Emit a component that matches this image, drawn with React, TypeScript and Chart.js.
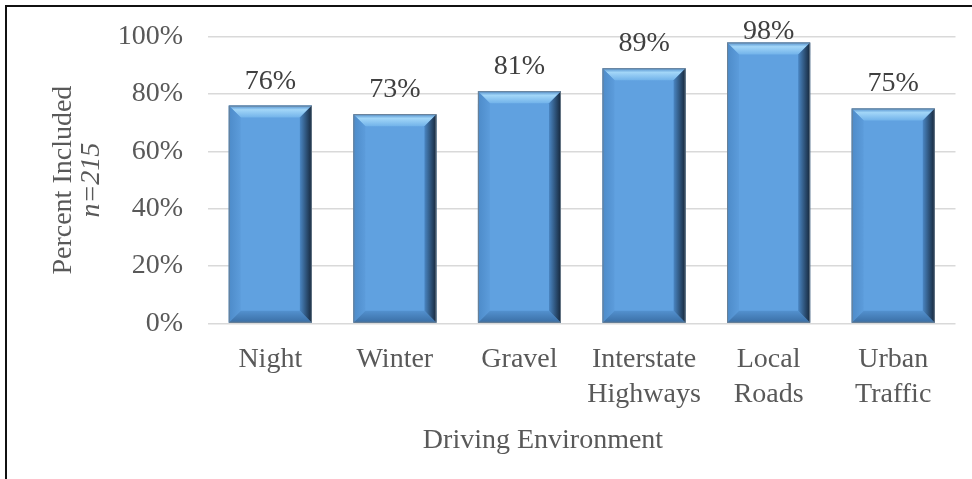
import React, { useEffect, useRef } from "react";
import { Chart, registerables } from "chart.js";

Chart.register(...registerables);

const categories: string[][] = [
  ["Night"],
  ["Winter"],
  ["Gravel"],
  ["Interstate", "Highways"],
  ["Local", "Roads"],
  ["Urban", "Traffic"],
];
const percentIncluded: number[] = [76, 73, 81, 89, 98, 75];
const yTickMin = 0;
const yTickMax = 100;
const yTickStep = 20;
const yTitleMain = "Percent Included";
const yTitleSub = "n=215";
const xTitle = "Driving Environment";

const FONT = "'Liberation Serif', 'Times New Roman', serif";
const TEXT = "#595959";

const bevelPlugin = {
  id: "bevelAndLabels",
  afterDatasetsDraw(chart: any) {
    const ctx: CanvasRenderingContext2D = chart.ctx;
    const meta = chart.getDatasetMeta(0);
    const area = chart.chartArea;
    meta.data.forEach((bar: any, i: number) => {
      const { x, y, base, width } = bar.getProps(["x", "y", "base", "width"], true);
      const l = x - width / 2;
      const r = x + width / 2;
      const t = Math.min(y, base);
      const bt = Math.max(y, base);
      const b = Math.min(12, (bt - t) / 2);
      ctx.save();
      // top bevel
      let g = ctx.createLinearGradient(0, t, 0, t + b);
      g.addColorStop(0, "#4f8dcc");
      g.addColorStop(0.35, "#a2d6f8");
      g.addColorStop(1, "#72b3ea");
      ctx.fillStyle = g;
      ctx.beginPath();
      ctx.moveTo(l, t); ctx.lineTo(r, t); ctx.lineTo(r - b, t + b); ctx.lineTo(l + b, t + b); ctx.closePath();
      ctx.fill();
      // left bevel
      g = ctx.createLinearGradient(l, 0, l + b, 0);
      g.addColorStop(0, "#4d8bc9");
      g.addColorStop(1, "#5c9cdb");
      ctx.fillStyle = g;
      ctx.beginPath();
      ctx.moveTo(l, t); ctx.lineTo(l + b, t + b); ctx.lineTo(l + b, bt - b); ctx.lineTo(l, bt); ctx.closePath();
      ctx.fill();
      // bottom bevel
      g = ctx.createLinearGradient(0, bt - b, 0, bt);
      g.addColorStop(0, "#5391cf");
      g.addColorStop(1, "#3a6ea4");
      ctx.fillStyle = g;
      ctx.beginPath();
      ctx.moveTo(l, bt); ctx.lineTo(l + b, bt - b); ctx.lineTo(r - b, bt - b); ctx.lineTo(r, bt); ctx.closePath();
      ctx.fill();
      // right bevel
      g = ctx.createLinearGradient(r - b, 0, r, 0);
      g.addColorStop(0, "#4a86c3");
      g.addColorStop(0.6, "#2a4c70");
      g.addColorStop(1, "#15263a");
      ctx.fillStyle = g;
      ctx.beginPath();
      ctx.moveTo(r, t); ctx.lineTo(r, bt); ctx.lineTo(r - b, bt - b); ctx.lineTo(r - b, t + b); ctx.closePath();
      ctx.fill();
      // outline
      ctx.strokeStyle = "rgba(110,125,140,0.9)";
      ctx.lineWidth = 1;
      ctx.strokeRect(l + 0.5, t + 0.5, width - 1, bt - t - 1);
      // data label
      ctx.fillStyle = "#404040";
      ctx.font = `28px ${FONT}`;
      ctx.textAlign = "center";
      ctx.textBaseline = "alphabetic";
      const baseline = Math.max(t - 17, area.top + 2);
      ctx.fillText(`${percentIncluded[i]}%`, x, baseline);
      ctx.restore();
    });
  },
  afterDraw(chart: any) {
    const ctx: CanvasRenderingContext2D = chart.ctx;
    const area = chart.chartArea;
    const cy = (area.top + area.bottom) / 2;
    ctx.save();
    ctx.fillStyle = TEXT;
    ctx.textAlign = "center";
    ctx.textBaseline = "middle";
    ctx.translate(64, cy);
    ctx.rotate(-Math.PI / 2);
    ctx.font = `28px ${FONT}`;
    ctx.fillText(yTitleMain, 0, 0);
    ctx.font = `italic 28px ${FONT}`;
    ctx.fillText(yTitleSub, 0, 28);
    ctx.restore();
    ctx.save();
    ctx.fillStyle = TEXT;
    ctx.textAlign = "center";
    ctx.textBaseline = "middle";
    ctx.font = `28px ${FONT}`;
    ctx.fillText(xTitle, 543, 441);
    ctx.restore();
  },
};

export default function App() {
  const ref = useRef<HTMLCanvasElement | null>(null);
  useEffect(() => {
    if (!ref.current) return;
    const chart = new Chart(ref.current, {
      type: "bar",
      data: {
        labels: categories,
        datasets: [
          {
            data: percentIncluded,
            backgroundColor: "#60a1e0",
            borderWidth: 0,
            categoryPercentage: 1,
            barPercentage: 0.667,
          },
        ],
      },
      options: {
        animation: false,
        responsive: false,
        maintainAspectRatio: false,
        devicePixelRatio: 1,
        layout: { padding: { top: 36.7, right: 16.5, left: 0, bottom: 0 } },
        plugins: { legend: { display: false }, tooltip: { enabled: false } },
        scales: {
          x: {
            grid: { display: false, drawTicks: false },
            border: { display: false },
            ticks: {
              color: TEXT,
              font: { family: FONT, size: 28, lineHeight: 1.25 },
              padding: 19,
              maxRotation: 0,
              autoSkip: false,
            },
            afterFit: (s: any) => {
              s.height = 155.5;
            },
          },
          y: {
            min: yTickMin,
            max: yTickMax,
            grid: {
              color: "#d9d9d9",
              lineWidth: 1.5,
              drawTicks: true,
              tickLength: 25,
              tickColor: "rgba(0,0,0,0)",
            },
            border: { display: false },
            ticks: {
              stepSize: yTickStep,
              color: TEXT,
              font: { family: FONT, size: 28 },
              padding: 0,
              callback: (v: any) => `${v}%`,
            },
            afterFit: (s: any) => {
              s.width = 208;
            },
          },
        },
      },
      plugins: [bevelPlugin],
    });
    return () => chart.destroy();
  }, []);
  return (
    <div style={{ position: "fixed", left: 0, top: 0, width: 972, height: 479, background: "#fff" }}>
      <canvas ref={ref} width={972} height={479} style={{ width: 972, height: 479, display: "block" }} />
      <div
        style={{
          position: "absolute",
          left: 5,
          top: 5,
          right: 0,
          bottom: 0,
          borderTop: "2px solid #111",
          borderLeft: "2px solid #111",
          pointerEvents: "none",
        }}
      />
    </div>
  );
}
